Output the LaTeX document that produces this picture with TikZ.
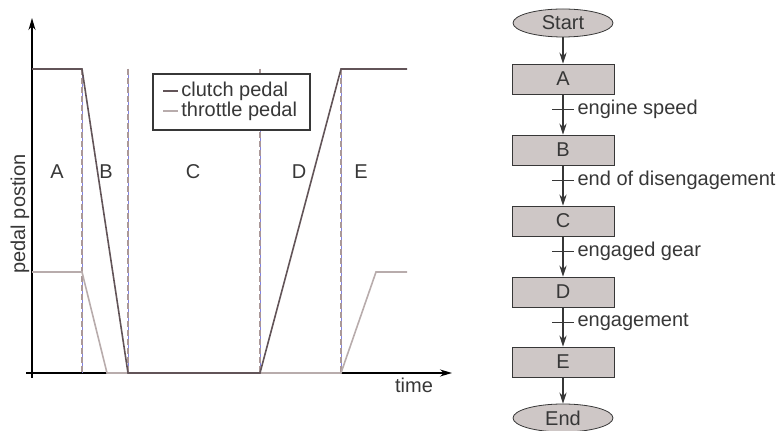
\documentclass[tikz,border=0pt]{standalone}
\usepackage{fontspec}
\setmainfont{Liberation Sans}
\usetikzlibrary{positioning,shapes.geometric,arrows.meta,calc}

\definecolor{clutch}{RGB}{98,84,88}
\definecolor{throttle}{RGB}{184,172,172}
\definecolor{ink}{RGB}{55,55,55}
\definecolor{boxfill}{RGB}{206,199,198}
\definecolor{sepblue}{RGB}{130,130,225}
\definecolor{sepgray}{RGB}{170,152,152}

\tikzset{
  phase/.style={draw=ink,fill=boxfill,minimum width=51pt,minimum height=15pt,inner sep=0pt,text=ink},
  term/.style={ellipse,draw=ink,fill=boxfill,minimum width=50pt,minimum height=14pt,inner sep=0pt,text=ink},
  flow/.style={draw=ink,line width=.6pt,-{Stealth[length=5.5pt,width=3.6pt]}},
  cond/.style={right,inner sep=1.5pt,text=ink},
  sepline/.style={sepgray,line width=.6pt,dash pattern=on 3pt off 1.5pt},
}

\begin{document}
\begin{tikzpicture}[x=.5pt,y=-.5pt]
  \fontsize{10}{12}\selectfont
  \useasboundingbox (0,0) rectangle (782,431);

  %ejes
  \draw[black,line width=.7pt,-{Stealth[length=6pt,width=3.5pt]}] (32,378) -- (32,18);
  \draw[black,line width=.7pt,-{Stealth[length=6pt,width=3.5pt]}] (26,373) -- (452,373);
  \node[text=ink] (tlabel) at (414,385) {time};
  \node[rotate=90,text=ink] (ylabel) at (20,214) {pedal postion};

  %separadores
  \foreach \xs in {82,128,260,341}{
    \draw[sepblue,line width=.3pt] (\xs,69) -- (\xs,373);
    \draw[sepline] (\xs,69) -- (\xs,373);
  }

  %fases
  \node[text=ink] (pA) at (57,172) {A};
  \node[text=ink] (pB) at (106,172) {B};
  \node[text=ink] (pC) at (193,172) {C};
  \node[text=ink] (pD) at (299,172) {D};
  \node[text=ink] (pE) at (361,172) {E};

  %lineas
  \draw[throttle,line width=.8pt] (32,272) -- (82,272) -- (107,373) -- (341,373) -- (376,272) -- (407,272);
  \draw[clutch,line width=.8pt] (32,69) -- (82,69) -- (128,373) -- (260,373) -- (341,69) -- (407,69);

  %leyenda
  \draw[ink,fill=white,line width=.7pt] (153,74) rectangle (310,130);
  \draw[clutch,line width=.8pt] (163,91) -- (178,91);
  \draw[throttle,line width=.8pt] (163,111) -- (178,111);
  \node[anchor=west,inner sep=1pt,text=ink] (lc) at (179,91) {clutch pedal};
  \node[anchor=west,inner sep=1pt,text=ink] (lt) at (179,111) {throttle pedal};

  %diagrama
  \node[term] (start) at (563,23) {Start};
  \node[phase] (A) at (563,79) {A};
  \node[phase] (B) at (563,150) {B};
  \node[phase] (C) at (563,221) {C};
  \node[phase] (D) at (563,292) {D};
  \node[phase] (E) at (563,362) {E};
  \node[term] (end) at (563,418) {End};

  \draw[flow] (start) -- (A);
  \draw[flow] (A) -- (B);
  \draw[flow] (B) -- (C);
  \draw[flow] (C) -- (D);
  \draw[flow] (D) -- (E);
  \draw[flow] (E) -- (end);

  %transiciones
  \coordinate (t1) at ($(A.south)!.38!(B.north)$);
  \coordinate (t2) at ($(B.south)!.38!(C.north)$);
  \coordinate (t3) at ($(C.south)!.38!(D.north)$);
  \coordinate (t4) at ($(D.south)!.38!(E.north)$);
  \draw[ink,line width=.6pt] ([xshift=-5.5pt]t1) -- ([xshift=5.5pt]t1) node[cond] {engine speed};
  \draw[ink,line width=.6pt] ([xshift=-5.5pt]t2) -- ([xshift=5.5pt]t2) node[cond] {end of disengagement};
  \draw[ink,line width=.6pt] ([xshift=-5.5pt]t3) -- ([xshift=5.5pt]t3) node[cond] {engaged gear};
  \draw[ink,line width=.6pt] ([xshift=-5.5pt]t4) -- ([xshift=5.5pt]t4) node[cond] {engagement};
\end{tikzpicture}
\end{document}
